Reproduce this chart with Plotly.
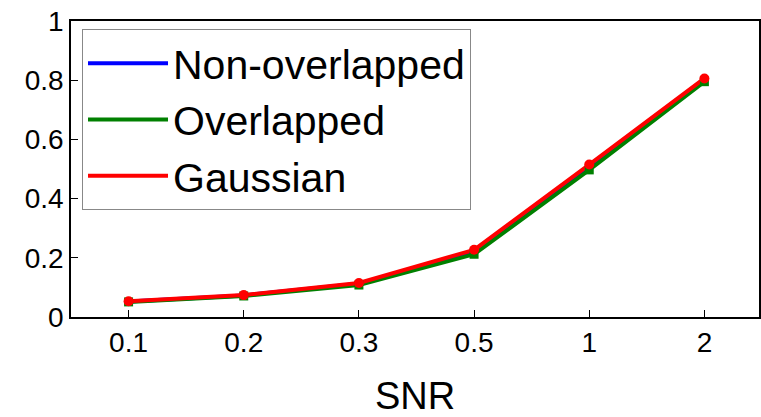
import plotly.graph_objects as go

# SNR levels on the x axis
snr = ["0.1", "0.2", "0.3", "0.5", "1", "2"]

# Detection rate per method
non_overlapped = [0.052, 0.073, 0.112, 0.220, 0.505, 0.800]
overlapped = [0.051, 0.071, 0.108, 0.212, 0.497, 0.795]
gaussian = [0.053, 0.074, 0.115, 0.227, 0.515, 0.806]

series_names = ["Non-overlapped", "Overlapped", "Gaussian"]
series_colors = ["#0000ff", "#008000", "#ff0000"]

fig = go.Figure()

# Lines (shown in legend)
for name, vals, col in zip(series_names, [non_overlapped, overlapped, gaussian], series_colors):
    fig.add_trace(go.Scatter(x=snr, y=vals, mode="lines", name=name,
                             line=dict(color=col, width=4)))

# Point markers drawn on top, kept out of the legend
fig.add_trace(go.Scatter(x=snr, y=overlapped, mode="markers", showlegend=False,
                         marker=dict(symbol="square", size=9, color="#008000")))
fig.add_trace(go.Scatter(x=snr, y=gaussian, mode="markers", showlegend=False,
                         marker=dict(symbol="circle", size=10, color="#ff0000")))

font_family = "Liberation Sans, Arial, Helvetica, sans-serif"

fig.update_layout(
    width=761, height=417,
    margin=dict(l=71, r=0, t=21, b=100),
    paper_bgcolor="white", plot_bgcolor="white",
    font=dict(family=font_family, color="black"),
    showlegend=True,
    legend=dict(
        x=0.016, y=0.973, xanchor="left", yanchor="top",
        bgcolor="white", bordercolor="#888888", borderwidth=1,
        font=dict(size=41, family=font_family, color="black"),
        itemwidth=80, tracegroupgap=0,
    ),
    xaxis=dict(
        type="category", range=[-0.5, 5.474],
        showline=True, linecolor="black", linewidth=1.5, mirror=True,
        ticks="inside", ticklen=7, tickcolor="black",
        tickfont=dict(size=28), showgrid=False, zeroline=False,
        title=dict(text="SNR", font=dict(size=38), standoff=26),
    ),
    yaxis=dict(
        range=[0, 1], tickvals=[0, 0.2, 0.4, 0.6, 0.8, 1],
        ticktext=["0", "0.2", "0.4", "0.6", "0.8", "1"],
        showline=True, linecolor="black", linewidth=1.5, mirror=True,
        ticks="inside", ticklen=7, tickcolor="black",
        tickfont=dict(size=28), showgrid=False, zeroline=False,
    ),
)

fig.write_html("out.html")
